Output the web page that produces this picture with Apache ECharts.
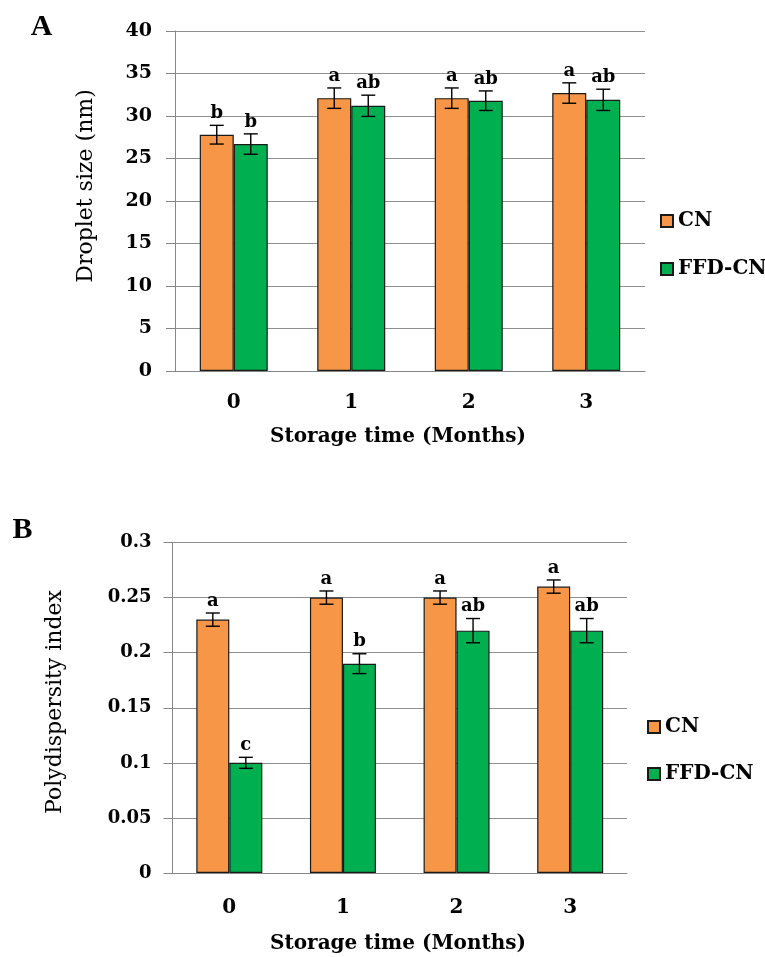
<!DOCTYPE html>
<html>
<head>
<meta charset="utf-8">
<script src="https://cdn.jsdelivr.net/npm/echarts@6/dist/echarts.min.js"></script>
<style>html,body{margin:0;padding:0;background:#fff}#c{width:765px;height:957px}</style>
</head>
<body>
<div id="c"></div>
<script>
var months = ['0', '1', '2', '3'];
var seriesNames = ['CN', 'FFD-CN'];
var dropletTicks = [0, 5, 10, 15, 20, 25, 30, 35, 40];
var pdiTicks = [0, 0.05, 0.1, 0.15, 0.2, 0.25, 0.3];

var dropletCN = [27.8, 32.1, 32.1, 32.7];
var dropletCNErr = [1.1, 1.2, 1.2, 1.2];
var dropletCNLetters = ['b', 'a', 'a', 'a'];
var dropletFFD = [26.7, 31.2, 31.8, 31.9];
var dropletFFDErr = [1.2, 1.25, 1.15, 1.25];
var dropletFFDLetters = ['b', 'ab', 'ab', 'ab'];

var pdiCN = [0.23, 0.25, 0.25, 0.26];
var pdiCNErr = [0.006, 0.006, 0.006, 0.006];
var pdiCNLetters = ['a', 'a', 'a', 'a'];
var pdiFFD = [0.10, 0.19, 0.22, 0.22];
var pdiFFDErr = [0.005, 0.009, 0.011, 0.011];
var pdiFFDLetters = ['c', 'b', 'ab', 'ab'];

var SERIF = '"DejaVu Serif", serif';
var ORANGE = '#F79646', GREEN = '#00B050';
var AXIS = '#868686', GRID = '#8f8f8f';

function errSeries(name, xi, yi, vals, errs, letters, offset) {
  return {
    type: 'custom', name: name + ' err', xAxisIndex: xi, yAxisIndex: yi, z: 5,
    data: vals.map(function (v, i) { return [i, v, errs[i]]; }),
    renderItem: function (params, api) {
      var i = api.value(0), v = api.value(1), e = api.value(2);
      var hi = api.coord([i, v + e]);
      var lo = api.coord([i, v - e]);
      var cx = hi[0] + offset;
      var ls = { stroke: '#000', lineWidth: 1.4 };
      return {
        type: 'group',
        children: [
          { type: 'line', shape: { x1: cx, y1: hi[1], x2: cx, y2: lo[1] }, style: ls },
          { type: 'line', shape: { x1: cx - 7, y1: hi[1], x2: cx + 7, y2: hi[1] }, style: ls },
          { type: 'line', shape: { x1: cx - 7, y1: lo[1], x2: cx + 7, y2: lo[1] }, style: ls },
          { type: 'text', x: cx, y: hi[1] - 3,
            style: { text: letters[params.dataIndex], fill: '#000', font: 'bold 18px ' + SERIF,
                     align: 'center', verticalAlign: 'bottom' } }
        ]
      };
    }
  };
}

function barSeries(name, xi, yi, vals, color, bw) {
  return {
    type: 'bar', name: name, xAxisIndex: xi, yAxisIndex: yi, data: vals,
    barWidth: bw, barGap: '0%',
    itemStyle: { color: color, borderColor: '#1a1a1a', borderWidth: 1.2 },
    emphasis: { disabled: true }
  };
}

function yAxisCfg(grid, min, max, interval, fs, margin) {
  return {
    type: 'value', gridIndex: grid, min: min, max: max, interval: interval,
    axisLine: { show: true, lineStyle: { color: AXIS, width: 1 } },
    axisTick: { show: true, length: 9, lineStyle: { color: AXIS } },
    splitLine: { lineStyle: { color: GRID, width: 1 } },
    axisLabel: { color: '#000', fontFamily: SERIF, fontWeight: 'bold', fontSize: fs, margin: margin }
  };
}

function xAxisCfg(grid, margin) {
  return {
    type: 'category', gridIndex: grid, data: months,
    axisLine: { show: true, lineStyle: { color: AXIS, width: 1 } },
    axisTick: { show: false },
    axisLabel: { color: '#000', fontFamily: SERIF, fontWeight: 'bold', fontSize: 20, margin: margin }
  };
}

function legendCfg(left, top, gap) {
  return {
    data: seriesNames.map(function (n) { return { name: n, icon: 'rect' }; }),
    orient: 'vertical', left: left, top: top, itemWidth: 12, itemHeight: 12,
    itemGap: gap, selectedMode: false,
    textStyle: { fontFamily: SERIF, fontWeight: 'bold', fontSize: 20, color: '#000', lineHeight: 24 }
  };
}

var chart = echarts.init(document.getElementById('c'), null, { renderer: 'canvas' });
chart.setOption({
  animation: false,
  backgroundColor: '#fff',
  grid: [
    { left: 175, right: 120, top: 31, bottom: 586 },
    { left: 172.5, right: 138, top: 542.5, bottom: 84 }
  ],
  xAxis: [xAxisCfg(0, 22), xAxisCfg(1, 25)],
  yAxis: [yAxisCfg(0, 0, 40, 5, 19, 23), yAxisCfg(1, 0, 0.3, 0.05, 18, 21)],
  legend: [legendCfg(655, 204, 24), legendCfg(642, 710, 23)],
  graphic: [
    { type: 'text', x: 41.5, y: 27.5, style: { text: 'A', font: 'bold 30px "Liberation Serif", serif', fill: '#000', align: 'center', verticalAlign: 'middle' } },
    { type: 'text', x: 22.5, y: 530.5, style: { text: 'B', font: 'bold 30px "Liberation Serif", serif', fill: '#000', align: 'center', verticalAlign: 'middle' } },
    { type: 'text', x: 86, y: 186, rotation: Math.PI / 2, style: { text: 'Droplet size (nm)', font: '22px ' + SERIF, fill: '#000', align: 'center', verticalAlign: 'middle' } },
    { type: 'text', x: 55, y: 702, rotation: Math.PI / 2, style: { text: 'Polydispersity index', font: '22px ' + SERIF, fill: '#000', align: 'center', verticalAlign: 'middle' } },
    { type: 'text', x: 398, y: 437, style: { text: 'Storage time (Months)', font: 'bold 20px ' + SERIF, fill: '#000', align: 'center', verticalAlign: 'middle' } },
    { type: 'text', x: 398, y: 944, style: { text: 'Storage time (Months)', font: 'bold 20px ' + SERIF, fill: '#000', align: 'center', verticalAlign: 'middle' } }
  ],
  series: [
    barSeries('CN', 0, 0, dropletCN, ORANGE, 34),
    barSeries('FFD-CN', 0, 0, dropletFFD, GREEN, 34),
    barSeries('CN', 1, 1, pdiCN, ORANGE, 33),
    barSeries('FFD-CN', 1, 1, pdiFFD, GREEN, 33),
    errSeries('CN', 0, 0, dropletCN, dropletCNErr, dropletCNLetters, -17),
    errSeries('FFD-CN', 0, 0, dropletFFD, dropletFFDErr, dropletFFDLetters, 17),
    errSeries('CN', 1, 1, pdiCN, pdiCNErr, pdiCNLetters, -16.5),
    errSeries('FFD-CN', 1, 1, pdiFFD, pdiFFDErr, pdiFFDLetters, 16.5)
  ]
});
</script>
</body>
</html>
